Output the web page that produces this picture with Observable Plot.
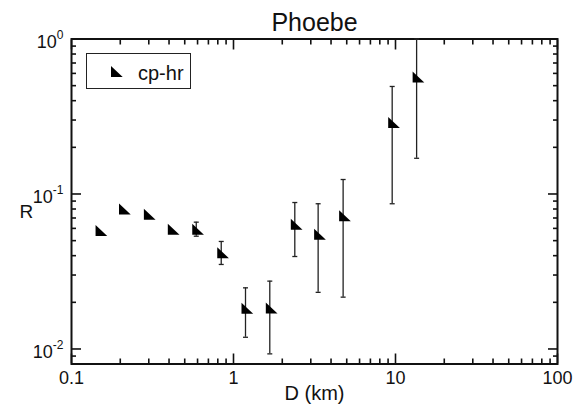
<!DOCTYPE html>
<html><head><meta charset="utf-8">
<script src="https://cdn.jsdelivr.net/npm/d3@7"></script>
<script src="https://cdn.jsdelivr.net/npm/@observablehq/plot@0.6"></script>
<style>
html,body{margin:0;padding:0;background:#fff;}
#chart{position:relative;width:573px;height:405px;font-family:"Liberation Sans",Arial,sans-serif;}
#legend{position:absolute;left:86px;top:53px;width:105px;height:36px;box-sizing:border-box;border:1px solid #222;background:#fff;}
#legend svg{position:absolute;left:0;top:0;}
</style></head><body>
<div id="chart">
  <div id="legend"><svg width="103" height="34"><polygon points="24,12 24,23 35.7,23" fill="#000"/><text x="51" y="26" font-size="20" font-family="Liberation Sans, Arial, sans-serif" fill="#111">cp-hr</text></svg></div>
</div>
<script>
// Data
const diameters = [0.149, 0.208, 0.296, 0.416, 0.589, 0.84, 1.186, 1.675, 2.39, 3.33, 4.75, 9.54, 13.5];
const ratios    = [0.0567, 0.0778, 0.0720, 0.0576, 0.0576, 0.0407, 0.0178, 0.0179, 0.0621, 0.0535, 0.0704, 0.282, 0.553];
const errLow    = [null, null, null, null, 0.0534, 0.0351, 0.0119, 0.0093, 0.0395, 0.0232, 0.0216, 0.0865, 0.170];
const errHigh   = [null, null, null, null, 0.0658, 0.0494, 0.0248, 0.0274, 0.0881, 0.0865, 0.124, 0.494, 1.0];

// Tick values
const xMajor = [0.1, 1, 10, 100];
const xLabels = ["0.1", "1", "10", "100"];
const xMinor = [0.2, 0.3, 0.4, 0.5, 0.6, 0.7, 0.8, 0.9, 2, 3, 4, 5, 6, 7, 8, 9, 20, 30, 40, 50, 60, 70, 80, 90];
const yMajor = [0.01, 0.1, 1];
const yExponent = ["-2", "-1", "0"];
const yMinor = [0.009, 0.02, 0.03, 0.04, 0.05, 0.06, 0.07, 0.08, 0.09, 0.2, 0.3, 0.4, 0.5, 0.6, 0.7, 0.8, 0.9];

const points = diameters.map((D, i) => ({D, R: ratios[i], lo: errLow[i], hi: errHigh[i]}));
const bars = points.filter(d => d.lo != null);

const tri = {draw(ctx) { ctx.moveTo(-4, -7.3); ctx.lineTo(-4, 3.7); ctx.lineTo(7.7, 3.7); ctx.closePath(); }};
const cap = {draw(ctx) { ctx.moveTo(-2.5, 0); ctx.lineTo(2.5, 0); }};

const tk = {stroke: "#111", strokeWidth: 1.6, fill: "none", label: null};

const chart = Plot.plot({
  width: 573,
  height: 405,
  marginLeft: 71,
  marginRight: 16,
  marginTop: 38.5,
  marginBottom: 41.5,
  style: {fontFamily: "Liberation Sans, Arial, sans-serif", background: "#fff", color: "#111"},
  x: {type: "log", domain: [0.1, 100]},
  y: {type: "log", domain: [0.008, 1]},
  marks: [
    // inward ticks on all four sides
    Plot.axisX(xMajor, {...tk, anchor: "bottom", tickSize: -10}),
    Plot.axisX(xMinor, {...tk, anchor: "bottom", tickSize: -5}),
    Plot.axisX(xMajor, {...tk, anchor: "top", tickSize: -10}),
    Plot.axisX(xMinor, {...tk, anchor: "top", tickSize: -5}),
    Plot.axisY(yMajor, {...tk, anchor: "left", tickSize: -10}),
    Plot.axisY(yMinor, {...tk, anchor: "left", tickSize: -5}),
    Plot.axisY(yMajor, {...tk, anchor: "right", tickSize: -10}),
    Plot.axisY(yMinor, {...tk, anchor: "right", tickSize: -5}),
    // tick labels
    Plot.axisX(xMajor, {anchor: "bottom", tickSize: 0, tickPadding: 7, fontSize: 18, fill: "#111", label: null,
      tickFormat: d => xLabels[xMajor.indexOf(d)]}),
    Plot.axisY(yMajor, {anchor: "left", tickSize: 0, tickPadding: 8, fontSize: 18, fill: "#111", label: null, dy: 3,
      tickFormat: d => "10^" + yExponent[yMajor.indexOf(d)]}),
    Plot.frame({stroke: "#111", strokeWidth: 2}),
    // error bars
    Plot.ruleX(bars, {x: "D", y1: "lo", y2: "hi", stroke: "#222", strokeWidth: 1.3}),
    Plot.dot(bars, {x: "D", y: "lo", symbol: cap, stroke: "#222", strokeWidth: 1.3, fill: "none"}),
    Plot.dot(bars, {x: "D", y: "hi", symbol: cap, stroke: "#222", strokeWidth: 1.3, fill: "none"}),
    // markers
    Plot.dot(points, {x: "D", y: "R", symbol: tri, fill: "#000", stroke: "none"}),
    // titles
    Plot.text(["Phoebe"], {frameAnchor: "top", lineAnchor: "bottom", dy: -8.5, fontSize: 25, fill: "#111", text: d => d}),
    Plot.text(["D (km)"], {frameAnchor: "bottom", lineAnchor: "bottom", dy: 36, fontSize: 20, fill: "#111", text: d => d}),
    Plot.text(["R"], {frameAnchor: "left", dx: -52, dy: 10, fontSize: 19, fill: "#111", text: d => d})
  ]
});

// turn "10^e" labels into base + superscript
d3.select(chart).selectAll('g[aria-label="y-axis tick label"] text').each(function () {
  const t = this.textContent;
  const [base, exp] = t.split("^");
  const sel = d3.select(this);
  sel.text(null);
  sel.append("tspan").text(base);
  sel.append("tspan").attr("dy", -9).attr("font-size", 12).text(exp);
});

document.getElementById("chart").prepend(chart);
chart.style.position = "absolute";
chart.style.left = "0";
chart.style.top = "0";
</script>
</body></html>
